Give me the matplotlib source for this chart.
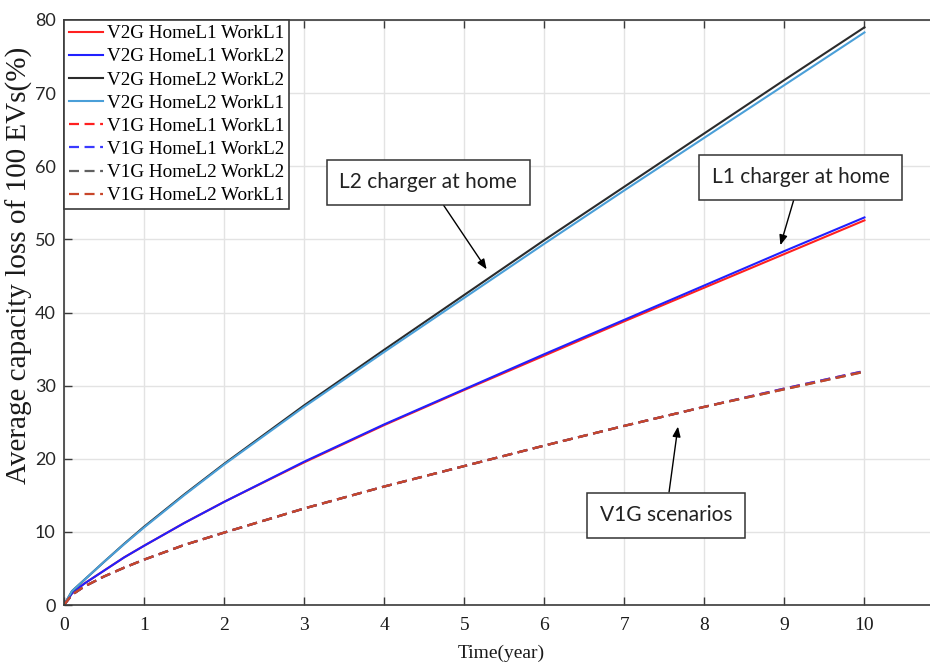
import matplotlib
matplotlib.use("Agg")
import matplotlib.pyplot as plt

# time axis (years) and average capacity loss (%)
t = [0, 0.1, 0.25, 0.5, 0.75, 1, 1.5, 2, 3, 4, 5, 6, 7, 8, 9, 10]

v2g_h1_w1 = [0, 1.6, 2.9, 4.7, 6.5, 8.1, 11.2, 14.1, 19.5, 24.6, 29.4, 34.1, 38.8, 43.4, 48.0, 52.6]
v2g_h1_w2 = [0, 1.6, 2.9, 4.7, 6.5, 8.1, 11.2, 14.1, 19.6, 24.7, 29.5, 34.3, 39.0, 43.7, 48.4, 53.0]
v2g_h2_w2 = [0, 1.9, 3.4, 5.9, 8.35, 10.7, 15.1, 19.3, 27.3, 34.9, 42.4, 49.9, 57.2, 64.5, 71.8, 79.0]
v2g_h2_w1 = [0, 1.9, 3.4, 5.9, 8.3, 10.6, 15.0, 19.2, 27.1, 34.6, 42.0, 49.4, 56.7, 63.9, 71.1, 78.3]
v1g_h1_w1 = [0, 1.4, 2.5, 3.9, 5.1, 6.2, 8.2, 9.9, 13.2, 16.2, 19.0, 21.8, 24.5, 27.1, 29.6, 32.0]
v1g_h1_w2 = [0, 1.4, 2.5, 3.9, 5.1, 6.2, 8.2, 9.9, 13.2, 16.2, 19.0, 21.8, 24.5, 27.1, 29.6, 32.0]
v1g_h2_w2 = [0, 1.4, 2.5, 3.9, 5.1, 6.2, 8.2, 9.9, 13.2, 16.2, 19.0, 21.8, 24.5, 27.1, 29.5, 31.9]
v1g_h2_w1 = [0, 1.4, 2.5, 3.9, 5.1, 6.2, 8.2, 9.9, 13.2, 16.2, 19.0, 21.8, 24.5, 27.1, 29.5, 31.9]

labels = ["V2G HomeL1 WorkL1", "V2G HomeL1 WorkL2", "V2G HomeL2 WorkL2", "V2G HomeL2 WorkL1",
          "V1G HomeL1 WorkL1", "V1G HomeL1 WorkL2", "V1G HomeL2 WorkL2", "V1G HomeL2 WorkL1"]

serif = "Liberation Serif"
sans = "Lato"

fig = plt.figure(figsize=(9.3, 6.65), dpi=100)
ax = fig.add_axes([64 / 930, 60 / 665, 880.5 / 930, 585 / 665])

dash = (0, (4.5, 2.5))
ax.plot(t, v2g_h1_w1, color="#ff2020", lw=1.5, label=labels[0])
ax.plot(t, v2g_h1_w2, color="#2020ff", lw=1.5, label=labels[1])
ax.plot(t, v2g_h2_w2, color="#2b2b2b", lw=1.5, label=labels[2])
ax.plot(t, v2g_h2_w1, color="#4a9fd8", lw=1.5, label=labels[3])
ax.plot(t, v1g_h1_w1, color="#ff2020", lw=1.6, ls=dash, label=labels[4])
ax.plot(t, v1g_h1_w2, color="#3a3aff", lw=1.6, ls=dash, label=labels[5])
ax.plot(t, v1g_h2_w2, color="#606060", lw=1.6, ls=dash, label=labels[6])
ax.plot(t, v1g_h2_w1, color="#c8462a", lw=1.6, ls=dash, label=labels[7])

ax.set_xlim(0, 11)
ax.set_ylim(0, 80)
ax.set_xticks(range(0, 11))
ax.set_yticks(range(0, 81, 10))
ax.grid(True, color="#e3e3e3", lw=1)
ax.set_axisbelow(True)
for s in ax.spines.values():
    s.set_color("#3a3a3a")
    s.set_linewidth(1.2)
ax.tick_params(direction="in", length=6, width=1, color="#3a3a3a", top=True, right=True)
ax.tick_params(axis="x", pad=9, labelsize=14, labelcolor="#1a1a1a")
ax.tick_params(axis="y", pad=6, labelsize=13, labelcolor="#262626")
for lb in ax.get_xticklabels():
    lb.set_family(serif)
for lb in ax.get_yticklabels():
    lb.set_family(sans)

ax.set_xlabel("Time(year)", family=serif, fontsize=14, color="#1a1a1a")
ax.xaxis.set_label_coords(0.497, -0.082)
ax.xaxis.label.set_va("center")
ax.set_ylabel("Average capacity loss of 100 EVs(%)", family=serif, fontsize=21, color="#1a1a1a")
ax.yaxis.set_label_coords(-0.051, 0.58)
ax.yaxis.label.set_va("center")

leg = ax.legend(loc="upper left", borderaxespad=0, prop={"family": serif, "size": 13.8},
                fancybox=False, framealpha=1, edgecolor="#3a3a3a", labelspacing=0.3,
                handlelength=1.8, handletextpad=0.2, borderpad=0.25)
leg.get_frame().set_linewidth(1.2)

box = dict(boxstyle="square,pad=0.6", fc="white", ec="#333333", lw=1.1)
arrow = dict(arrowstyle="-|>,head_length=0.5,head_width=0.2", color="black", lw=1,
             mutation_scale=12, shrinkA=0, shrinkB=0)
ax.annotate("L2 charger at home", xy=(5.28, 45.9), xytext=(4.55, 57.8), ha="center", va="center",
            family=sans, fontsize=15, color="#222222", bbox=box, arrowprops=arrow)
ax.annotate("L1 charger at home", xy=(8.95, 49.2), xytext=(9.2, 58.5), ha="center", va="center",
            family=sans, fontsize=15, color="#222222", bbox=box, arrowprops=arrow)
ax.annotate("V1G scenarios", xy=(7.67, 24.4), xytext=(7.52, 12.3), ha="center", va="center",
            family=sans, fontsize=15, color="#222222", bbox=box, arrowprops=arrow)

fig.savefig("out.png", dpi=100)
